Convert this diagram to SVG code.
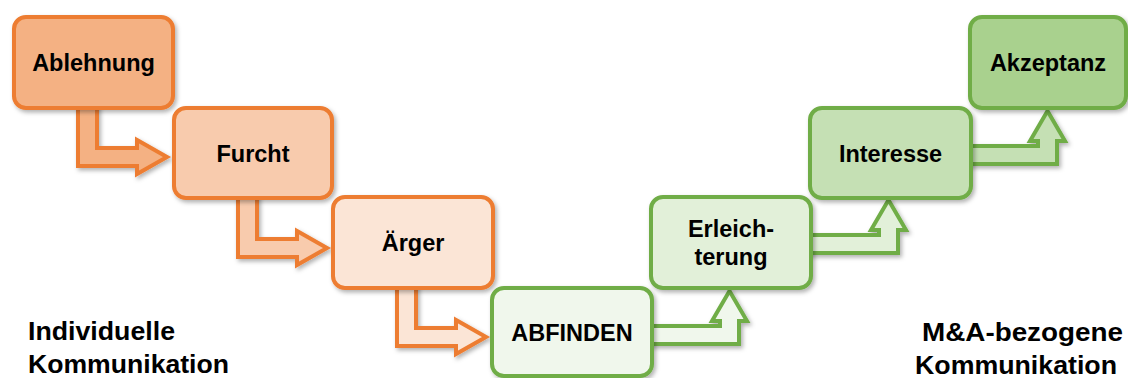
<svg xmlns="http://www.w3.org/2000/svg" width="1128" height="378" viewBox="0 0 1128 378">
<defs>
<filter id="sh" x="-10%" y="-10%" width="125%" height="130%">
<feDropShadow dx="2" dy="2.5" stdDeviation="2" flood-color="#000" flood-opacity="0.3"/>
</filter>
<style>
.o{stroke:#ED7D31;stroke-width:4}
.g{stroke:#70AD47;stroke-width:4}
.box{filter:url(#sh)}
.arr{stroke-linejoin:miter;filter:url(#sh)}
.t{font-family:"Liberation Sans",Arial,sans-serif;font-weight:bold;font-size:23.5px;fill:#000;text-anchor:middle}
.lbl{font-family:"Liberation Sans",Arial,sans-serif;font-weight:bold;font-size:25.5px;fill:#000}
</style>
</defs>
<rect width="1128" height="378" fill="#fff"/>
<g id="connectors">
<path class="arr o" fill="#F4B183" d="M78,105 V166 H137 V174 L167,157 L137,140 V148 H97 V105 Z"/>
<path class="arr o" fill="#F8CBAD" d="M238,195 V257 H297 V265 L327,248 L297,231 V239 H257 V195 Z"/>
<path class="arr o" fill="#FBE5D6" d="M397,285 V346 H456 V354 L486,337 L456,320 V328 H416 V285 Z"/>
<path class="arr g" fill="#F0F7EC" d="M648,326 H720 V321 H712 L729.5,291 L747,321 H739 V344 H648 Z"/>
<path class="arr g" fill="#E2F0D9" d="M808,235 H879 V230 H871 L888.5,200 L906,230 H898 V253 H808 Z"/>
<path class="arr g" fill="#C5E0B4" d="M967,146 H1038 V141 H1030 L1047.5,111 L1065,141 H1057 V164 H967 Z"/>
</g>
<g id="ablehnung">
<rect class="box o" x="14" y="17" width="159" height="91" rx="12" fill="#F4B183"/>
<text class="t" x="93.5" y="71">Ablehnung</text>
</g>
<g id="furcht">
<rect class="box o" x="174" y="108" width="158" height="90" rx="12" fill="#F8CBAD"/>
<text class="t" x="253" y="161.5">Furcht</text>
</g>
<g id="aerger">
<rect class="box o" x="333" y="197" width="160" height="91" rx="12" fill="#FBE5D6"/>
<text class="t" x="413" y="251">Ärger</text>
</g>
<g id="abfinden">
<rect class="box g" x="492" y="288" width="160" height="88" rx="12" fill="#F0F7EC"/>
<text class="t" x="572" y="340.5">ABFINDEN</text>
</g>
<g id="erleichterung">
<rect class="box g" x="651" y="197" width="160" height="91" rx="12" fill="#E2F0D9"/>
<text class="t" x="731" y="237">Erleich-</text>
<text class="t" x="731" y="265">terung</text>
</g>
<g id="interesse">
<rect class="box g" x="810" y="108" width="161" height="90" rx="12" fill="#C5E0B4"/>
<text class="t" x="890.5" y="161.5">Interesse</text>
</g>
<g id="akzeptanz">
<rect class="box g" x="970" y="17" width="156" height="91" rx="12" fill="#A9D18E"/>
<text class="t" x="1048" y="71">Akzeptanz</text>
</g>
<g id="labels">
<text class="lbl" x="28" y="339.5" textLength="147" lengthAdjust="spacingAndGlyphs">Individuelle</text>
<text class="lbl" x="28" y="372.5" textLength="201" lengthAdjust="spacingAndGlyphs">Kommunikation</text>
<text class="lbl" x="922" y="340.5" textLength="201" lengthAdjust="spacingAndGlyphs">M&amp;A-bezogene</text>
<text class="lbl" x="915" y="373.5" textLength="202" lengthAdjust="spacingAndGlyphs">Kommunikation</text>
</g>
</svg>
